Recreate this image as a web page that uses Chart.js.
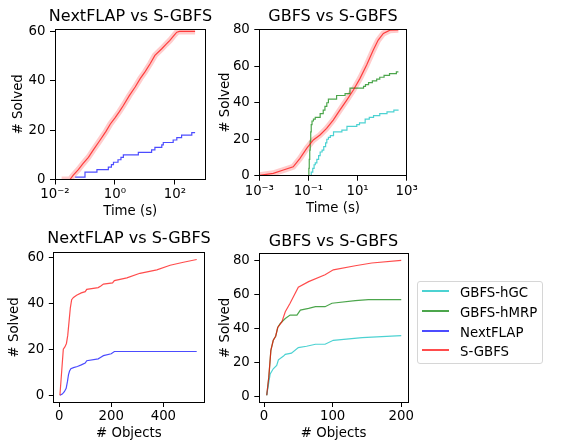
<!DOCTYPE html>
<html>
<head>
<meta charset="utf-8">
<script src="https://cdn.jsdelivr.net/npm/chart.js@4.4.1/dist/chart.umd.min.js"></script>
<style>
  body { margin: 0; background: #fff; }
  #page { position: relative; width: 581px; height: 445px; overflow: hidden; font-family: 'DejaVu Sans', sans-serif; }
  canvas { position: absolute; }
  #legend { position: absolute; left: 416.5px; top: 281px; width: 126px; height: 83px; box-sizing: border-box;
            border: 1px solid #d6d6d6; border-radius: 3px; background: rgba(255,255,255,0.8); font-size: 13.3px; color: #000; }
  .swatch { position: absolute; left: 4px; width: 27px; height: 2px; }
  .lbl { position: absolute; left: 42.5px; line-height: 20px; white-space: nowrap; }
</style>
</head>
<body>
<div id="page">
  <canvas id="c1" width="261" height="222" style="left:0px;top:0px"></canvas>
  <canvas id="c2" width="236" height="222" style="left:215px;top:0px"></canvas>
  <canvas id="c3" width="258" height="223" style="left:0px;top:222px"></canvas>
  <canvas id="c4" width="237" height="223" style="left:215px;top:222px"></canvas>
  <div id="legend"></div>
</div>
<script>
// top left: NextFLAP vs S-GBFS over time (s)
const t1Sgbfs = [0.0166, 0.0316, 0.0407, 0.06, 0.087, 0.13, 0.19, 0.3, 0.5, 0.7, 1.0, 1.4, 1.9, 3.0, 4.7, 7, 10, 15, 21.4, 36.3, 50, 67.6, 90, 115, 141, 468];
const v1Sgbfs = [0, 0, 1.8, 4, 6.5, 9, 12, 15.5, 19.5, 22.5, 25, 27.5, 30, 34, 37.5, 41, 43.6, 47, 50.3, 53, 54.8, 56.4, 58.2, 59.7, 60, 60];
const t1Nextflap = [0.047, 0.1, 0.25, 0.6, 0.76, 0.89, 1.26, 1.58, 1.9, 6.0, 16.6, 21.4, 36.3, 40.7, 87, 115, 166, 363, 468];
const v1Nextflap = [1, 3, 4, 5, 6, 7, 8, 9, 10, 11, 12, 13, 14, 15, 16, 17, 18, 19, 19];

// top right: GBFS vs S-GBFS over time (s)
const t2Sgbfs = [0.001, 0.0037, 0.0095, 0.024, 0.0454, 0.085, 0.158, 0.295, 0.55, 1.02, 1.9, 3.63, 6.76, 12.6, 23.4, 43.7, 69.2, 112, 209, 457];
const v2Sgbfs = [0.2, 1.3, 3.1, 4.9, 9.5, 15, 19.6, 22.3, 26, 30.5, 36, 41.5, 47, 53.4, 60.7, 68.9, 74.4, 78, 79.8, 80];
const t2Hmrp = [0.1, 0.104, 0.108, 0.113, 0.118, 0.124, 0.13, 0.14, 0.16, 0.19, 0.3, 0.4, 0.47, 0.56, 0.65, 1.4, 3.1, 4.9, 17.5, 21, 28, 40, 60, 80, 120, 200, 380, 460];
const v2Hmrp = [0, 4, 9, 14, 19, 24, 28, 30, 31, 32, 34, 36, 38, 40, 42, 44, 45, 48, 49, 50, 51, 52, 53, 54, 55, 56, 57, 57];
const t2Hgc = [0.117, 0.13, 0.15, 0.17, 0.19, 0.22, 0.26, 0.3, 0.36, 0.42, 0.5, 0.56, 0.65, 0.78, 1.05, 2.3, 3.7, 9.3, 12, 20.4, 30, 44.7, 80, 158, 300, 468];
const v2Hgc = [0, 2, 4, 6, 7, 9, 11, 13, 14, 16, 18, 20, 21, 22, 24, 25, 27, 28, 29, 31, 32, 33, 34, 35, 36, 36];

// bottom left: NextFLAP vs S-GBFS over # objects
const o3Sgbfs = [3, 16, 22, 28, 33, 38, 43, 48, 55, 67, 85, 100, 106, 150, 160, 170, 205, 212, 260, 310, 375, 426, 477, 528];
const v3Sgbfs = [0, 20, 21, 22.5, 26, 32, 38, 41.5, 42.5, 43.5, 44.5, 45, 46, 46.8, 47.5, 48.3, 48.8, 49.8, 51, 53, 54.5, 56.5, 57.8, 59];
const o3Nextflap = [3, 12, 20, 27, 32, 36, 40, 45, 55, 70, 85, 100, 106, 150, 160, 170, 200, 212, 528];
const v3Nextflap = [0, 0.5, 1.5, 3, 6, 9, 10.5, 11.5, 12, 12.5, 13.2, 14, 15, 15.8, 16.5, 17.2, 18, 19, 19];

// bottom right: GBFS vs S-GBFS over # objects
const o4Sgbfs = [4, 7, 10, 13.5, 17, 20, 26, 31, 38, 50, 65, 89, 101, 133, 157, 200];
const v4Sgbfs = [1, 11.6, 27.3, 33.2, 35.6, 40.7, 44, 49.9, 54.9, 64.3, 67.6, 71.6, 74.5, 76.9, 78.5, 80];
const o4Hmrp = [4, 7, 10, 13.5, 17, 20, 23.5, 31, 38, 48, 53, 65, 75, 89, 99, 133, 152, 200];
const v4Hmrp = [1, 11.6, 27.3, 33.2, 35.6, 40.7, 43, 46, 48, 48, 50.9, 51.9, 52.9, 52.9, 54.9, 56.4, 57, 57];
const o4Hgc = [4, 9, 13.5, 18.5, 21, 28, 31, 40, 50, 62, 75, 89, 101, 143, 200];
const v4Hgc = [1, 13.5, 16.5, 18.5, 21.8, 23.8, 25, 25.7, 28.9, 29.7, 30.9, 30.9, 33.2, 34.8, 36];

// tick labels
const timeTicks1 = [0.01, 1, 100];
const timeTicks2 = [0.001, 0.1, 10, 1000];
const objTicks3 = [0, 200, 400];
const objTicks4 = [0, 100, 200];
const solvedTicks60 = [0, 20, 40, 60];
const solvedTicks80 = [0, 20, 40, 60, 80];

const seriesNames = ['GBFS-hGC', 'GBFS-hMRP', 'NextFLAP', 'S-GBFS'];
const colors = {
  'GBFS-hGC': 'rgba(0,191,191,0.7)',
  'GBFS-hMRP': 'rgba(0,128,0,0.7)',
  'NextFLAP': 'rgba(0,0,255,0.7)',
  'S-GBFS': 'rgba(255,0,0,0.7)'
};

Chart.defaults.font.family = "'DejaVu Sans', sans-serif";
Chart.defaults.font.size = 13.3;
Chart.defaults.color = '#000';

const pts = (xs, ys) => xs.map((x, i) => ({x: x, y: ys[i]}));
const sup = {'-': '\u207B', '0': '\u2070', '1': '\u00B9', '2': '\u00B2', '3': '\u00B3'};
const powLabel = v => '10' + String(Math.round(Math.log10(v))).split('').map(c => sup[c]).join('');

function line(name, xs, ys, extra) {
  return Object.assign({
    label: name, data: pts(xs, ys), borderColor: colors[name], borderWidth: 1.2,
    pointRadius: 0, tension: 0, fill: false, order: 2
  }, extra || {});
}

// the spread of the S-GBFS runs, drawn as a wide pale stroke under the line
function band(xs, ys) {
  return { label: 'S-GBFS spread', data: pts(xs, ys), borderColor: 'rgba(255,0,0,0.2)',
           borderWidth: 6, pointRadius: 0, tension: 0, fill: false, order: 3 };
}

const al = p => Math.round(p - 0.5) + 0.5;
const frame = {
  id: 'frame',
  afterDraw(chart) {
    const a = chart.chartArea, ctx = chart.ctx;
    ctx.save();
    ctx.strokeStyle = '#000';
    ctx.lineWidth = 1;
    ctx.strokeRect(al(a.left), al(a.top), al(a.right) - al(a.left), al(a.bottom) - al(a.top));
    ctx.restore();
  }
};

function panel(id, g) {
  const tickGrid = { drawOnChartArea: false, tickLength: 5, color: '#000', lineWidth: 1 };
  return new Chart(document.getElementById(id), {
    type: 'line',
    data: { datasets: g.datasets },
    options: {
      responsive: false,
      animation: false,
      layout: { padding: 0, autoPadding: false },
      plugins: {
        legend: { display: false },
        tooltip: { enabled: false },
        title: { display: true, text: g.title, color: '#000', font: { size: 16, weight: 'normal' }, padding: g.titlePad }
      },
      scales: {
        x: {
          type: g.xType, min: g.xMin, max: g.xMax,
          afterBuildTicks: a => { a.ticks = g.xTicks.map(v => ({value: v})); },
          afterFit: s => { s.height = g.xH; },
          ticks: { autoSkip: false, maxRotation: 0, padding: g.xTickPad,
                   callback: g.xType === 'logarithmic' ? powLabel : v => String(v) },
          grid: tickGrid,
          border: { display: false },
          title: { display: true, text: g.xTitle, padding: { top: 0, bottom: g.xTitlePad } }
        },
        y: {
          type: 'linear', min: g.yMin, max: g.yMax,
          afterBuildTicks: a => { a.ticks = g.yTicks.map(v => ({value: v})); },
          afterFit: s => { s.width = g.yW; },
          ticks: { autoSkip: false, padding: 4.5, callback: v => String(v) },
          grid: tickGrid,
          border: { display: false },
          title: { display: true, text: '# Solved', padding: { top: g.yTitlePad, bottom: 0 } }
        },
        // empty right gutter so the title centres over the axes
        yr: {
          position: 'right',
          afterFit: s => { s.width = g.rW; },
          ticks: { display: false },
          grid: { display: false },
          border: { display: false }
        }
      }
    },
    plugins: [frame]
  });
}

panel('c1', {
  title: 'NextFLAP vs S-GBFS', titlePad: { top: 7, bottom: 2.8 },
  xType: 'logarithmic', xMin: 0.01, xMax: 1040, xTicks: timeTicks1, xTitle: 'Time (s)',
  yMin: 0, yMax: 61, yTicks: solvedTicks60,
  yW: 55, rW: 55.5, xH: 42.5, xTickPad: 2.2, xTitlePad: 2.1, yTitlePad: 10.7,
  datasets: [
    band(t1Sgbfs, v1Sgbfs),
    line('NextFLAP', t1Nextflap, v1Nextflap, { stepped: true }),
    line('S-GBFS', t1Sgbfs, v1Sgbfs, { order: 1 })
  ]
});

panel('c2', {
  title: 'GBFS vs S-GBFS', titlePad: { top: 7, bottom: 3.1 },
  xType: 'logarithmic', xMin: 0.001, xMax: 1000, xTicks: timeTicks2, xTitle: 'Time (s)',
  yMin: 0, yMax: 80.3, yTicks: solvedTicks80,
  yW: 44.3, rW: 44.3, xH: 46.3, xTickPad: 3.2, xTitlePad: 5.3, yTitlePad: 2.4,
  datasets: [
    band(t2Sgbfs, v2Sgbfs),
    line('GBFS-hGC', t2Hgc, v2Hgc, { stepped: true }),
    line('GBFS-hMRP', t2Hmrp, v2Hmrp, { stepped: true }),
    line('S-GBFS', t2Sgbfs, v2Sgbfs, { order: 1 })
  ]
});

panel('c3', {
  title: 'NextFLAP vs S-GBFS', titlePad: { top: 7.4, bottom: 4.1 },
  xType: 'linear', xMin: -20.5, xMax: 556, xTicks: objTicks3, xTitle: '# Objects',
  yMin: -2.95, yMax: 61.95, yTicks: solvedTicks60,
  yW: 53.8, rW: 54, xH: 43, xTickPad: 1.7, xTitlePad: 3.6, yTitlePad: 6.7,
  datasets: [
    line('NextFLAP', o3Nextflap, v3Nextflap),
    line('S-GBFS', o3Sgbfs, v3Sgbfs, { order: 1 })
  ]
});

panel('c4', {
  title: 'GBFS vs S-GBFS', titlePad: { top: 9.9, bottom: 2.6 },
  xType: 'linear', xMin: -6.85, xMax: 209.85, xTicks: objTicks4, xTitle: '# Objects',
  yMin: -2.95, yMax: 83.95, yTicks: solvedTicks80,
  yW: 44.3, rW: 44, xH: 43, xTickPad: 1.9, xTitlePad: 3.6, yTitlePad: 2.4,
  datasets: [
    line('GBFS-hGC', o4Hgc, v4Hgc),
    line('GBFS-hMRP', o4Hmrp, v4Hmrp),
    line('S-GBFS', o4Sgbfs, v4Sgbfs, { order: 1 })
  ]
});

// figure legend
const legend = document.getElementById('legend');
seriesNames.forEach((name, i) => {
  const c = 9.3 + i * 19.6;
  const sw = document.createElement('div');
  sw.className = 'swatch';
  sw.style.top = (c - 1) + 'px';
  sw.style.background = colors[name];
  const tx = document.createElement('div');
  tx.className = 'lbl';
  tx.style.top = (c - 7.9) + 'px';
  tx.textContent = name;
  legend.appendChild(sw);
  legend.appendChild(tx);
});
</script>
</body>
</html>
